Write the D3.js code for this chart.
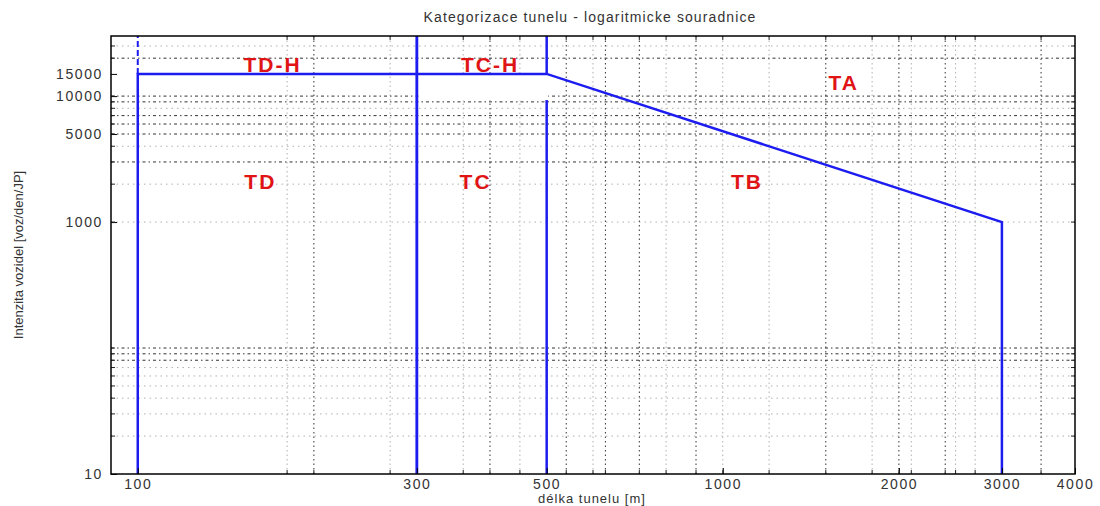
<!DOCTYPE html>
<html>
<head>
<meta charset="utf-8">
<script src="https://cdn.jsdelivr.net/npm/d3@7/dist/d3.min.js"></script>
<style>
  body { margin: 0; background: #fff; }
  text { font-family: "Liberation Sans", Arial, sans-serif; }
</style>
</head>
<body>
<svg id="chart" width="1100" height="506"></svg>
<script>
// tick labels
const xTicks = [100, 300, 500, 1000, 2000, 3000, 4000];
const yTicks = [10, 1000, 5000, 10000, 15000];

// grid lines (dark dotted and faint dotted, as seen in the picture)
const xGridDark = [200, 400, 540, 630, 720, 900, 1500, 2000, 2400, 3500];
const xGridLight = [180, 270, 360, 450, 600, 800, 1000, 1200, 1800, 2100, 2500, 2700];
const yGridDark = [80, 90, 100, 3000, 5000, 6000, 7000, 9000, 10000, 20000];
const yGridLight = [20, 30, 40, 50, 60, 70, 1000, 2000, 4000, 8000, 25000];

// category boundary: length [m] vs. traffic [voz/den/JP]
const boundary = [[100, 10], [100, 15000], [500, 15000], [3000, 1000], [3000, 10]];
const dividers = [300, 500];
const dashedDivider = 100;
const whiteBox = [[300, 9300], [503, 15000]];

// zone labels
const zoneNames = ['TD-H', 'TC-H', 'TA', 'TD', 'TC', 'TB'];
const zoneX = [170, 400, 1610, 162, 378, 1100];
const zoneY = [15500, 15500, 11200, 1830, 1830, 1830];

const svg = d3.select('#chart');
const m = { left: 111, right: 1075, top: 36, bottom: 474 };

const x = d3.scaleLog().domain([90, 4000]).range([m.left, m.right]);
const y = d3.scaleLog().domain([10, 30000]).range([m.bottom, m.top]);

// grid
const grid = svg.append('g');
function vGrid(vals, color) {
  grid.selectAll(null).data(vals).enter().append('line')
    .attr('x1', d => x(d)).attr('x2', d => x(d))
    .attr('y1', m.top).attr('y2', m.bottom)
    .attr('stroke', color).attr('stroke-width', 1)
    .attr('stroke-dasharray', '1.5,3');
}
function hGrid(vals, color, dash) {
  grid.selectAll(null).data(vals).enter().append('line')
    .attr('x1', m.left).attr('x2', m.right)
    .attr('y1', d => y(d)).attr('y2', d => y(d))
    .attr('stroke', color).attr('stroke-width', 1)
    .attr('stroke-dasharray', dash);
}
vGrid(xGridLight, '#b0b0b0');
hGrid(yGridLight, '#b0b0b0', '1.5,4');
vGrid(xGridDark, '#333');
hGrid(yGridDark, '#333', '3,3,1.5,3');

// divider lines at 300 and 500 m
const blue = '#1c1cf0';
svg.append('g').selectAll('line').data(dividers).enter().append('line')
  .attr('x1', d => x(d)).attr('x2', d => x(d))
  .attr('y1', y(10)).attr('y2', y(30000))
  .attr('stroke', blue).attr('stroke-width', 2.5);

// white patch over the TC-H band
svg.append('rect')
  .attr('x', x(whiteBox[0][0]) + 2)
  .attr('y', y(whiteBox[1][1]))
  .attr('width', x(whiteBox[1][0]) - x(whiteBox[0][0]) - 2)
  .attr('height', y(whiteBox[0][1]) - y(whiteBox[1][1]))
  .attr('fill', '#fff');

// redraw 300 line over patch
svg.append('line')
  .attr('x1', x(dividers[0])).attr('x2', x(dividers[0]))
  .attr('y1', y(10)).attr('y2', y(30000))
  .attr('stroke', blue).attr('stroke-width', 2.5);

// dashed continuation at 100 m
svg.append('line')
  .attr('x1', x(dashedDivider)).attr('x2', x(dashedDivider))
  .attr('y1', y(15000)).attr('y2', y(30000))
  .attr('stroke', blue).attr('stroke-width', 2)
  .attr('stroke-dasharray', '6,3');

// boundary
const line = d3.line().x(d => x(d[0])).y(d => y(d[1]));
svg.append('path').datum(boundary)
  .attr('d', line)
  .attr('fill', 'none')
  .attr('stroke', blue)
  .attr('stroke-width', 2.5);

// axes box
const tickFmt = d => d3.format('d')(d);
const xAxis = d3.axisBottom(x).tickValues(xTicks).tickFormat(tickFmt)
  .tickSizeInner(-6).tickSizeOuter(0).tickPadding(5);
const yAxis = d3.axisLeft(y).tickValues(yTicks).tickFormat(tickFmt)
  .tickSizeInner(-6).tickSizeOuter(0).tickPadding(8);

const gx = svg.append('g').attr('transform', `translate(0,${m.bottom})`).call(xAxis);
const gy = svg.append('g').attr('transform', `translate(${m.left},0)`).call(yAxis);
[gx, gy].forEach(g => {
  g.select('.domain').remove();
  g.selectAll('.tick line').attr('stroke', '#000');
  g.selectAll('.tick text')
    .attr('fill', '#333')
    .style('font-size', '14px')
    .style('letter-spacing', '1.6px');
});

// minor ticks on all four sides
const minorX = xGridDark.concat(xGridLight);
const minorY = yGridDark.concat(yGridLight);
const ticks = svg.append('g').attr('stroke', '#222').attr('stroke-width', 1);
minorX.forEach(v => {
  ticks.append('line').attr('x1', x(v)).attr('x2', x(v)).attr('y1', m.bottom).attr('y2', m.bottom - 4);
  ticks.append('line').attr('x1', x(v)).attr('x2', x(v)).attr('y1', m.top).attr('y2', m.top + 4);
});
minorY.forEach(v => {
  ticks.append('line').attr('x1', m.left).attr('x2', m.left + 4).attr('y1', y(v)).attr('y2', y(v));
  ticks.append('line').attr('x1', m.right).attr('x2', m.right - 4).attr('y1', y(v)).attr('y2', y(v));
});

svg.append('rect')
  .attr('x', m.left).attr('y', m.top)
  .attr('width', m.right - m.left).attr('height', m.bottom - m.top)
  .attr('fill', 'none').attr('stroke', '#000').attr('stroke-width', 1.5);

// zone labels
svg.append('g').selectAll('text').data(zoneNames).enter().append('text')
  .attr('x', (d, i) => x(zoneX[i]))
  .attr('y', (d, i) => y(zoneY[i]))
  .attr('text-anchor', 'middle')
  .attr('fill', '#e01414')
  .style('font-size', '21px')
  .style('font-weight', 'bold')
  .style('letter-spacing', '2px')
  .text(d => d);

// titles
svg.append('text')
  .attr('x', 590).attr('y', 22)
  .attr('text-anchor', 'middle')
  .attr('fill', '#333')
  .style('font-size', '14px')
  .style('letter-spacing', '1.1px')
  .text('Kategorizace tunelu - logaritmicke souradnice');

svg.append('text')
  .attr('x', 592).attr('y', 503)
  .attr('text-anchor', 'middle')
  .attr('fill', '#333')
  .style('font-size', '13px')
  .style('letter-spacing', '1px')
  .text('délka tunelu [m]');

svg.append('text')
  .attr('transform', 'translate(23,255) rotate(-90)')
  .attr('text-anchor', 'middle')
  .attr('fill', '#333')
  .style('font-size', '13px')
  .text('Intenzita vozidel [voz/den/JP]');
</script>
</body>
</html>
